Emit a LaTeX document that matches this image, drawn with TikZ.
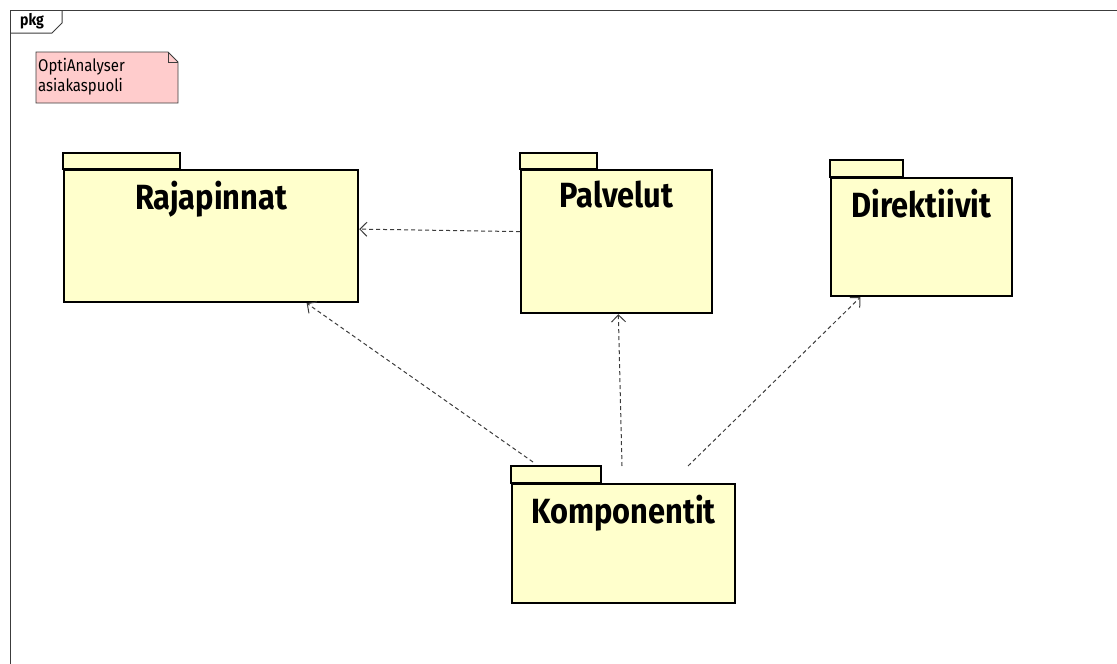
\documentclass[tikz,border=0pt]{standalone}
\usepackage{fontspec}
\setmainfont{Fira Sans}
\newfontfamily\pkgfont[FakeStretch=0.88]{Fira Sans}
\usetikzlibrary{arrows.meta, positioning}
\definecolor{pkgyellow}{RGB}{255,255,204}
\definecolor{notepink}{RGB}{255,204,204}
\definecolor{linegrey}{RGB}{60,60,60}

\tikzset{
  pkgbody/.style={draw, line width=2.2pt, fill=pkgyellow, anchor=north west, inner sep=0pt},
  pkgtab/.style={draw, line width=2pt, fill=pkgyellow},
  pkgtitle/.style={font=\pkgfont\bfseries\fontsize{35}{40}\selectfont, inner sep=0pt},
  depends/.style={draw=linegrey, dash pattern=on 4pt off 3pt, line width=1pt, -{Straight Barb[length=7pt, width=14pt]}},
}

\begin{document}
\begin{tikzpicture}[x=1pt, y=-1pt]
    \useasboundingbox (0,0) rectangle (1117,664);
    % frame
    \draw[linegrey, line width=1pt] (10,664) -- (10,10) -- (1117,10);
    \draw[linegrey, line width=1pt] (10,33) -- (52,33) -- (62,23) -- (62,10);
    \node[font=\pkgfont\bfseries\fontsize{16}{18}\selectfont] (pkg) at (32,21) {pkg};
    % note
    \draw[linegrey, line width=0.8pt, fill=notepink] (36,52) -- (168,52) -- (178,62) -- (178,103) -- (36,103) -- cycle;
    \draw[linegrey, line width=0.8pt] (168,52) -- (168,62) -- (178,62);
    \node[anchor=north west, align=left, inner sep=0pt, font=\pkgfont\fontsize{17}{20}\selectfont] (note) at (38,58) {OptiAnalyser\\asiakaspuoli};
    % packages
    \node[pkgbody, minimum width=294pt, minimum height=132pt] (raj) at (63,169) {};
    \draw[pkgtab] (raj.north west) rectangle ++(117,-16);
    \node[pkgtitle, below=12pt of raj.north] {Rajapinnat};
    \node[pkgbody, minimum width=191pt, minimum height=143pt] (pal) at (520,169) {};
    \draw[pkgtab] (pal.north west) rectangle ++(77,-16);
    \node[pkgtitle, below=12pt of pal.north] {Palvelut};
    \node[pkgbody, minimum width=181pt, minimum height=118pt] (dir) at (830,177) {};
    \draw[pkgtab] (dir.north west) rectangle ++(73,-17);
    \node[pkgtitle, below=12pt of dir.north] {Direktiivit};
    \node[pkgbody, minimum width=223pt, minimum height=119pt] (komp) at (511,483) {};
    \draw[pkgtab] (komp.north west) rectangle ++(90,-17);
    \node[pkgtitle, below=12pt of komp.north] {Komponentit};
    % dependencies
    \coordinate (k1) at (533,462);
    \coordinate (k2) at (622,466);
    \coordinate (k3) at (688,466);
    \path[depends] ([yshift=10pt]pal.west) -- ([yshift=7pt]raj.east);
    \path[depends] (k1) -- (raj);
    \path[depends] (k2) -- (pal);
    \path[depends] (k3) -- (dir);
\end{tikzpicture}
\end{document}
